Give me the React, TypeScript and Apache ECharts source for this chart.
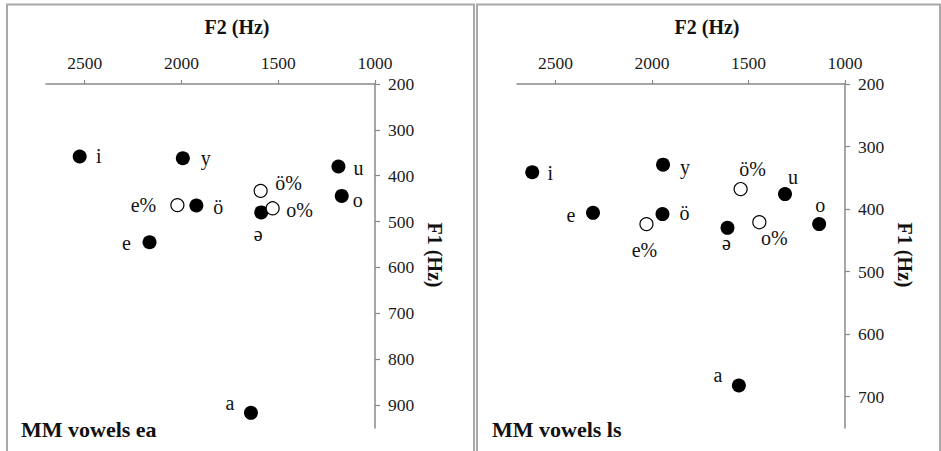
import React, { useEffect, useRef } from "react";
import * as echarts from "echarts";

// Panel 1: MM vowels ea
const vowelsEA = ["i", "y", "u", "ö%", "o", "e%", "ö", "o%", "ə", "e", "a"];
const f2EA = [2526, 1993, 1189, 1591, 1172, 2021, 1923, 1529, 1588, 2165, 1641];
const f1EA = [358, 362, 380, 433, 444, 464, 465, 471, 480, 545, 917];

// Panel 2: MM vowels ls
const vowelsLS = ["i", "y", "ö%", "u", "e", "ö", "o", "o%", "e%", "ə", "a"];
const f2LS = [2621, 1943, 1541, 1311, 2306, 1946, 1134, 1444, 2029, 1609, 1550];
const f1LS = [341, 329, 368, 376, 406, 408, 424, 421, 424, 430, 682];

const f2Ticks = [1000, 1500, 2000, 2500];
const f1TicksEA = [200, 300, 400, 500, 600, 700, 800, 900];
const f1TicksLS = [200, 300, 400, 500, 600, 700];

const panelTitles = ["MM vowels ea", "MM vowels ls"];

// label offsets (styling only)
const offsetsEA: Record<string, [number, number]> = {
  i: [19, 0], y: [23, 0], u: [20, 1], "ö%": [28, -8], o: [16, 4],
  "e%": [-34, 0], "ö": [22, 1], "o%": [27, 2], "ə": [-3, 22], e: [-23, 1], a: [-21, -10],
};
const offsetsLS: Record<string, [number, number]> = {
  i: [18, 1], y: [22, 2], "ö%": [12, -20], u: [8, -17], e: [-22, 2], "ö": [22, -1],
  o: [1, -19], "o%": [15, 16], "e%": [-2, 26], "ə": [-1, 15], a: [-21, -10],
};

const FONT = "Liberation Serif";
const AXIS_COLOR = "#898989";

export default function App() {
  const ref = useRef<HTMLDivElement>(null);
  useEffect(() => {
    if (!ref.current) return;
    const chart = echarts.init(ref.current, null, { renderer: "svg" });

    const grids = [
      { left: 46, top: 84, width: 329, height: 344 },
      { left: 517, top: 84, width: 328, height: 344 },
    ];

    const xAxes = [0, 1].map((i) => ({
      type: "value",
      gridIndex: i,
      position: "top",
      inverse: true,
      min: 1000,
      max: 2700,
      interval: 500,
      splitLine: { show: false },
      axisLine: { show: true, lineStyle: { color: AXIS_COLOR, width: 1.5 } },
      axisTick: { show: true, inside: false, length: 4, customValues: f2Ticks, lineStyle: { color: AXIS_COLOR, width: 1.2 } },
      axisLabel: {
        customValues: f2Ticks,
        formatter: (v: number) => String(v),
        margin: 12,
        fontFamily: FONT,
        fontSize: 17.5,
        color: "#1a1a1a",
      },
    }));

    const yAxes = [0, 1].map((i) => {
      const ticks = i === 0 ? f1TicksEA : f1TicksLS;
      return {
        type: "value",
        gridIndex: i,
        position: "right",
        inverse: true,
        min: 200,
        max: i === 0 ? 950 : 750,
        interval: 100,
        splitLine: { show: false },
        axisLine: { show: true, lineStyle: { color: AXIS_COLOR, width: 1.5 } },
        axisTick: { show: true, inside: false, length: 5, customValues: ticks, lineStyle: { color: AXIS_COLOR, width: 1.2 } },
        axisLabel: {
          customValues: ticks,
          formatter: (v: number) => String(v),
          margin: 13,
          fontFamily: FONT,
          fontSize: 17.5,
          color: "#1a1a1a",
        },
      };
    });

    const makeSeries = (
      idx: number,
      vowels: string[],
      f2: number[],
      f1: number[],
      offsets: Record<string, [number, number]>,
      open: boolean
    ) => {
      const data = vowels
        .map((v, k) => ({ v, k }))
        .filter(({ v }) => v.includes("%") === open)
        .map(({ v, k }) => ({
          name: v,
          value: [f2[k], f1[k]],
          label: { offset: offsets[v] || [0, 0] },
        }));
      return {
        type: "scatter",
        xAxisIndex: idx,
        yAxisIndex: idx,
        z: open ? 3 : 2,
        symbol: "circle",
        symbolSize: open ? 13 : 14,
        itemStyle: open
          ? { color: "#ffffff", borderColor: "#000000", borderWidth: 1.2, opacity: 1 }
          : { color: "#000000", opacity: 1 },
        label: {
          show: true,
          position: "inside",
          formatter: "{b}",
          fontFamily: FONT,
          fontSize: 20,
          color: "#111",
          align: "center",
          verticalAlign: "middle",
        },
        emphasis: { disabled: true },
        data,
      };
    };

    const series = [
      makeSeries(0, vowelsEA, f2EA, f1EA, offsetsEA, false),
      makeSeries(0, vowelsEA, f2EA, f1EA, offsetsEA, true),
      makeSeries(1, vowelsLS, f2LS, f1LS, offsetsLS, false),
      makeSeries(1, vowelsLS, f2LS, f1LS, offsetsLS, true),
    ];

    const txt = (text: string, size: number) => ({
      text,
      fontFamily: FONT,
      fontSize: size,
      fontWeight: "bold",
      fill: "#111",
    });

    const graphic: any[] = [
      { type: "rect", shape: { x: 7, y: 4.5, width: 467, height: 470 }, style: { fill: "none", stroke: "#a8a8a8", lineWidth: 2 }, silent: true },
      { type: "rect", shape: { x: 477, y: 4.5, width: 463, height: 470 }, style: { fill: "none", stroke: "#a8a8a8", lineWidth: 2 }, silent: true },
      { type: "text", x: 237, y: 27, style: { ...txt("F2 (Hz)", 20), align: "center", verticalAlign: "middle" } },
      { type: "text", x: 707, y: 27, style: { ...txt("F2 (Hz)", 20), align: "center", verticalAlign: "middle" } },
      { type: "text", x: 435, y: 255, rotation: -Math.PI / 2, style: { ...txt("F1 (Hz)", 20), align: "center", verticalAlign: "middle" } },
      { type: "text", x: 905, y: 255, rotation: -Math.PI / 2, style: { ...txt("F1 (Hz)", 20), align: "center", verticalAlign: "middle" } },
      { type: "text", x: 21, y: 429, style: { ...txt(panelTitles[0], 22), align: "left", verticalAlign: "middle" } },
      { type: "text", x: 492, y: 429, style: { ...txt(panelTitles[1], 22), align: "left", verticalAlign: "middle" } },
    ];

    chart.setOption({
      animation: false,
      backgroundColor: "#ffffff",
      textStyle: { fontFamily: FONT },
      grid: grids,
      xAxis: xAxes,
      yAxis: yAxes,
      series,
      graphic,
    } as any);

    return () => chart.dispose();
  }, []);

  return (
    <div
      ref={ref}
      style={{ position: "fixed", left: 0, top: 0, width: 941, height: 451, background: "#fff" }}
    />
  );
}
